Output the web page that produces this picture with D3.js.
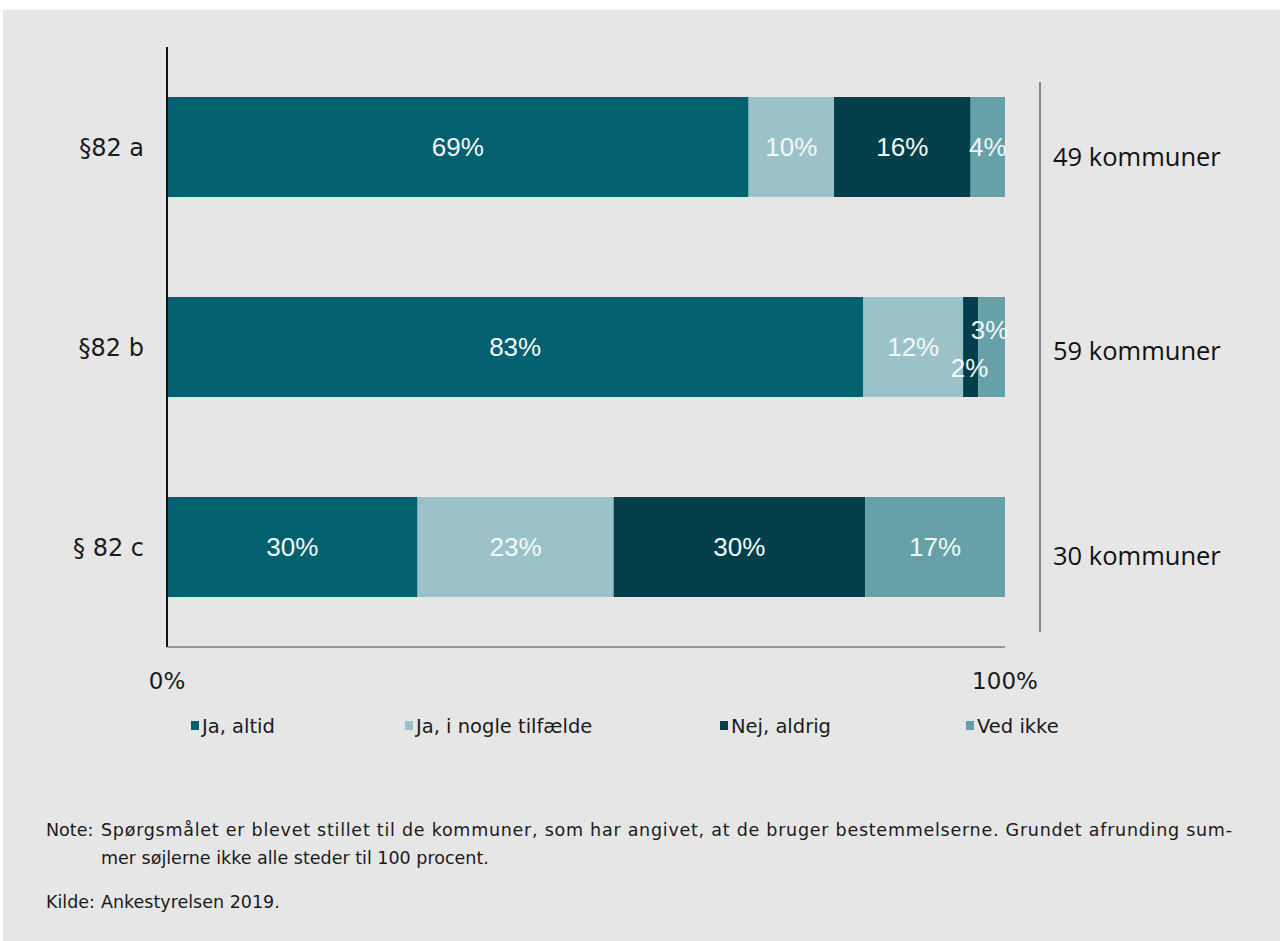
<!DOCTYPE html>
<html lang="da">
<head>
<meta charset="utf-8">
<title>Brug af §82 a, b og c</title>
<script src="https://cdn.jsdelivr.net/npm/d3@7"></script>
<style>
  html, body { margin: 0; padding: 0; background: #ffffff; }
  svg { display: block; }
</style>
</head>
<body>
<script>
// Kategorier (bestemmelser) og antal kommuner der har svaret
const categories = ["§82 a", "§82 b", "§ 82 c"];
const respondents = ["49 kommuner", "59 kommuner", "30 kommuner"];

// Svarkategorier
const seriesNames = ["Ja, altid", "Ja, i nogle tilfælde", "Nej, aldrig", "Ved ikke"];

// Andele i procent pr. bestemmelse (uafrundede værdier; etiketter vises afrundet)
const jaAltid = [69.4, 83.1, 29.9];
const jaNogle = [10.2, 11.9, 23.4];
const nejAldrig = [16.3, 1.8, 30.0];
const vedIkke = [4.1, 3.2, 16.7];

// Akseetiketter
const tickValues = [0, 100];
const tickLabels = ["0%", "100%"];

const colors = ["#03616f", "#9cc2c9", "#023f4b", "#66a1a9"];

const W = 1280, H = 941;
const svg = d3.select("body").append("svg").attr("width", W).attr("height", H);

// Grå baggrund for figurfeltet
svg.append("rect").attr("x", 3).attr("y", 10).attr("width", W - 3).attr("height", H - 10)
  .attr("fill", "#e6e6e6");

const plot = { left: 167, right: 1005, top: 47, bottom: 647 };

const x = d3.scaleLinear().domain([0, 100]).range([plot.left, plot.right]);
const y = d3.scaleBand().domain(categories).range([plot.top, plot.bottom]).paddingInner(0.5).paddingOuter(0.25);

// Stablede data
const rows = categories.map((c, i) => ({
  cat: c,
  [seriesNames[0]]: jaAltid[i],
  [seriesNames[1]]: jaNogle[i],
  [seriesNames[2]]: nejAldrig[i],
  [seriesNames[3]]: vedIkke[i]
}));
const stacked = d3.stack().keys(seriesNames)(rows);

// Små justeringer af etiketter, hvor segmenterne er for smalle
const labelNudge = { "§82 b|Nej, aldrig": [-1, 21], "§82 b|Ved ikke": [-2, -17] };

const layers = svg.append("g").selectAll("g").data(stacked).join("g")
  .attr("fill", (d, i) => colors[i]);

layers.selectAll("rect").data(d => d.map(s => ({ key: d.key, s }))).join("rect")
  .attr("x", d => x(d.s[0]))
  .attr("y", d => y(d.s.data.cat))
  .attr("width", d => x(d.s[1]) - x(d.s[0]))
  .attr("height", y.bandwidth());

// Procentetiketter i segmenterne
const labels = svg.append("g")
  .attr("font-family", "'Liberation Sans', Arial, sans-serif")
  .attr("font-size", 26)
  .attr("fill", "#f4f8f8")
  .attr("text-anchor", "middle");

stacked.forEach(layer => {
  layer.forEach(s => {
    const nudge = labelNudge[s.data.cat + "|" + layer.key] || [0, 0];
    labels.append("text")
      .attr("x", (x(s[0]) + x(s[1])) / 2 + nudge[0])
      .attr("y", y(s.data.cat) + y.bandwidth() / 2 + nudge[1])
      .attr("dy", "0.36em")
      .text(Math.round(s[1] - s[0]) + "%");
  });
});

// Venstre akse med kategorier
svg.append("line")
  .attr("x1", plot.left).attr("x2", plot.left)
  .attr("y1", plot.top).attr("y2", plot.bottom)
  .attr("stroke", "#111").attr("stroke-width", 2);
svg.append("line")
  .attr("x1", plot.left).attr("x2", plot.right)
  .attr("y1", plot.bottom).attr("y2", plot.bottom)
  .attr("stroke", "#444").attr("stroke-width", 1);

svg.append("g").selectAll("text").data(categories).join("text")
  .attr("x", 144)
  .attr("y", d => y(d) + y.bandwidth() / 2)
  .attr("dy", "0.36em")
  .attr("text-anchor", "end")
  .attr("font-family", "'DejaVu Sans', Verdana, sans-serif")
  .attr("font-size", 24)
  .attr("fill", "#1a1a1a")
  .text(d => d);

// Procentakse
svg.append("g").selectAll("text").data(tickValues).join("text")
  .attr("x", d => x(d))
  .attr("y", 689)
  .attr("text-anchor", "middle")
  .attr("font-family", "'DejaVu Sans', Verdana, sans-serif")
  .attr("font-size", 23)
  .attr("fill", "#1a1a1a")
  .text((d, i) => tickLabels[i]);

// Højre skillelinje og antal kommuner
svg.append("line")
  .attr("x1", 1040).attr("x2", 1040).attr("y1", 82).attr("y2", 632)
  .attr("stroke", "#8a8a8a").attr("stroke-width", 2);

svg.append("g").selectAll("text").data(categories).join("text")
  .attr("x", 1053)
  .attr("y", (d, i) => y(d) + y.bandwidth() / 2 + [10, 4, 9][i])
  .attr("dy", "0.36em")
  .attr("font-family", "'Open Sans', sans-serif")
  .attr("font-size", 25.5)
  .attr("fill", "#111")
  .text((d, i) => respondents[i]);

// Forklaring
const legendX = [191, 405, 720, 966];
const legend = svg.append("g").selectAll("g").data(seriesNames).join("g")
  .attr("transform", (d, i) => `translate(${legendX[i]},721)`);
legend.append("rect").attr("width", 8).attr("height", 9).attr("fill", (d, i) => colors[i]);
legend.append("text")
  .attr("x", 11).attr("y", 12)
  .attr("font-family", "'DejaVu Sans', Verdana, sans-serif")
  .attr("font-size", 19.5)
  .attr("fill", "#1a1a1a")
  .text(d => d);

// Note og kilde (første noteline er lige margen)
const notes = svg.append("g")
  .attr("font-family", "'DejaVu Sans', Verdana, sans-serif")
  .attr("font-size", 17.5)
  .attr("fill", "#1a1a1a");
const textX = 101;
notes.append("text").attr("x", 46).attr("y", 836).text("Note:");
notes.append("text").attr("x", textX).attr("y", 836)
  .attr("textLength", 1232 - textX).attr("lengthAdjust", "spacing")
  .text("Spørgsmålet er blevet stillet til de kommuner, som har angivet, at de bruger bestemmelserne. Grundet afrunding sum-");
notes.append("text").attr("x", textX).attr("y", 864)
  .text("mer søjlerne ikke alle steder til 100 procent.");
notes.append("text").attr("x", 46).attr("y", 908).text("Kilde:");
notes.append("text").attr("x", textX).attr("y", 908).text("Ankestyrelsen 2019.");
</script>
</body>
</html>
